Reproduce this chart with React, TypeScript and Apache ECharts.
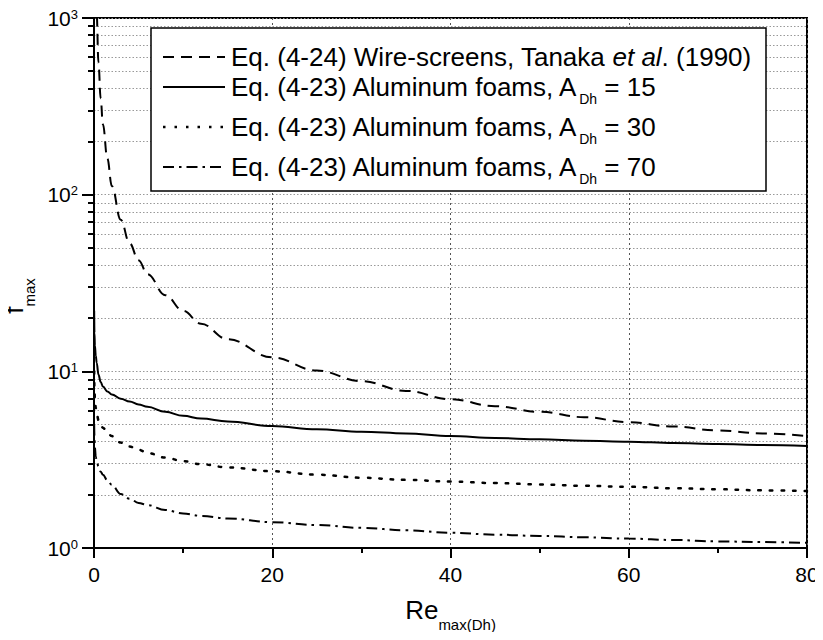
import React, { useEffect, useRef } from "react";
import * as echarts from "echarts";

// ---- data ----
const wireRe = [0.25, 0.3, 0.5, 0.75, 1, 1.5, 2, 3, 4, 5, 6, 8, 10, 12, 15, 20, 25, 30, 35, 40, 45, 50, 55, 60, 65, 70, 75, 80];
const wireF = [1300, 1050, 560, 350, 250, 160, 112, 72, 53, 42.5, 35.5, 27, 22, 18.6, 15.2, 12, 10.1, 8.8, 7.75, 6.95, 6.35, 5.9, 5.5, 5.15, 4.87, 4.63, 4.45, 4.3];

const foamRe = [0.02, 0.05, 0.1, 0.2, 0.3, 0.5, 0.75, 1, 1.5, 2, 3, 4, 5, 6, 8, 10, 12, 15, 20, 25, 30, 35, 40, 45, 50, 55, 60, 65, 70, 75, 80];
const foamA15 = [22, 16.5, 14, 12.3, 11.2, 9.6, 8.7, 8.2, 7.7, 7.4, 7.0, 6.75, 6.5, 6.3, 5.9, 5.6, 5.4, 5.2, 4.9, 4.7, 4.55, 4.45, 4.3, 4.2, 4.12, 4.05, 4.0, 3.93, 3.88, 3.83, 3.78];
const foamA30 = [10, 8, 7.0, 6.2, 5.8, 5.3, 5.0, 4.8, 4.5, 4.3, 3.95, 3.75, 3.6, 3.45, 3.25, 3.1, 2.98, 2.86, 2.72, 2.6, 2.5, 2.43, 2.38, 2.33, 2.29, 2.25, 2.22, 2.18, 2.15, 2.12, 2.1];
const foamA70 = [5.0, 4.3, 3.7, 3.3, 3.1, 2.9, 2.7, 2.6, 2.42, 2.28, 2.02, 1.9, 1.8, 1.75, 1.64, 1.57, 1.52, 1.47, 1.40, 1.35, 1.30, 1.26, 1.22, 1.19, 1.17, 1.15, 1.13, 1.11, 1.09, 1.08, 1.07];

const seriesNames = [
  "Eq. (4-24) Wire-screens, Tanaka et al. (1990)",
  "Eq. (4-23) Aluminum foams, A_Dh = 15",
  "Eq. (4-23) Aluminum foams, A_Dh = 30",
  "Eq. (4-23) Aluminum foams, A_Dh = 70",
];
const legendTexts = [
  "{m|Eq. (4-24) Wire-screens, Tanaka }{i|et al}{m|. (1990)}",
  "{m|Eq. (4-23) Aluminum foams, A}{s|Dh}{m| = 15}",
  "{m|Eq. (4-23) Aluminum foams, A}{s|Dh}{m| = 30}",
  "{m|Eq. (4-23) Aluminum foams, A}{s|Dh}{m| = 70}",
];

const FONT = "Arial, 'Liberation Sans', Helvetica, sans-serif";

const dashes: any[] = [[11, 7], "solid", [2.5, 9], [11, 5, 2.5, 5]];
const legendRows = [57, 87, 127, 167];

function zip(xs: number[], ys: number[]) {
  return xs.map((x, i) => [x, ys[i]]);
}

export default function App() {
  const ref = useRef<HTMLDivElement>(null);
  useEffect(() => {
    if (!ref.current) return;
    const chart = echarts.init(ref.current, null, { renderer: "svg" });
    const datasets = [zip(wireRe, wireF), zip(foamRe, foamA15), zip(foamRe, foamA30), zip(foamRe, foamA70)];
    const legendRich = {
      m: { fontSize: 26, lineHeight: 26, verticalAlign: "top", fontFamily: FONT, fill: "#000" },
      i: { fontSize: 26, lineHeight: 26, verticalAlign: "top", fontFamily: FONT, fontStyle: "italic", fill: "#000" },
      s: { fontSize: 14, lineHeight: 14, padding: [18, 0, 0, 0], verticalAlign: "top", fontFamily: FONT, fill: "#000" },
    };
    const graphic: any[] = [
      {
        type: "rect",
        z: 100,
        shape: { x: 151, y: 28, width: 615, height: 163 },
        style: { fill: "#fff", stroke: "#000", lineWidth: 1.5 },
      },
    ];
    legendRows.forEach((y, i) => {
      graphic.push({
        type: "line",
        z: 101,
        shape: { x1: 163, y1: y, x2: 225, y2: y },
        style: {
          stroke: "#000",
          lineWidth: i === 2 ? 2.5 : 2,
          lineDash: dashes[i] === "solid" ? null : dashes[i],
        },
      });
      graphic.push({
        type: "text",
        z: 101,
        x: 231,
        y: y - 13,
        style: {
          text: legendTexts[i],
          rich: legendRich,
          verticalAlign: "top",
          align: "left",
        },
      });
    });

    const option: any = {
      animation: false,
      backgroundColor: "#fff",
      grid: {
        left: 94,
        right: 16,
        top: 18,
        bottom: 92,
        containLabel: false,
        outerBoundsMode: "none",
        show: true,
        borderColor: "#000",
        borderWidth: 2,
        backgroundColor: "transparent",
      },
      xAxis: {
        type: "value",
        min: 0,
        max: 80,
        interval: 20,
        axisLine: { show: true, onZero: false, lineStyle: { color: "#000", width: 2 } },
        axisTick: { show: true, length: 10, lineStyle: { color: "#000", width: 2 } },
        minorTick: { show: true, splitNumber: 2, length: 5, lineStyle: { color: "#000", width: 2 } },
        axisLabel: { color: "#000", fontSize: 21, margin: 16, fontFamily: FONT },
        splitLine: { show: true, lineStyle: { color: "#555", type: [2, 3], width: 1 } },
        name: "{r|Re}{s|max(Dh)}",
        nameLocation: "middle",
        nameGap: 49,
        nameTextStyle: {
          rich: {
            r: { fontSize: 26, lineHeight: 26, verticalAlign: "top", fontFamily: FONT, color: "#000" },
            s: { fontSize: 15, lineHeight: 15, padding: [20, 0, 0, 0], verticalAlign: "top", fontFamily: FONT, color: "#000" },
          },
        },
      },
      yAxis: {
        type: "log",
        logBase: 10,
        min: 1,
        max: 1000,
        axisLine: { show: true, onZero: false, lineStyle: { color: "#000", width: 2 } },
        axisTick: { show: true, length: 12, lineStyle: { color: "#000", width: 2 } },
        minorTick: { show: true, splitNumber: 9, length: 6, lineStyle: { color: "#000", width: 2 } },
        minorSplitLine: { show: true, lineStyle: { color: "#999", type: [1.5, 2], width: 1 } },
        splitLine: { show: true, lineStyle: { color: "#999", type: [1.5, 2], width: 1 } },
        axisLabel: {
          margin: 16,
          formatter: (v: number) => `{b|10}{s|${Math.round(Math.log10(v))}}`,
          rich: {
            b: { fontSize: 21, lineHeight: 21, verticalAlign: "bottom", fontFamily: FONT, color: "#000" },
            s: { fontSize: 13, lineHeight: 13, padding: [0, 0, 12, 0], verticalAlign: "top", fontFamily: FONT, color: "#000" },
          },
        },
        name: "{f|f}{s|max}",
        nameLocation: "middle",
        nameRotate: 90,
        nameGap: 52,
        nameTextStyle: {
          padding: [0, 26, 0, 0],
          rich: {
            f: { fontSize: 26, lineHeight: 26, verticalAlign: "top", fontFamily: FONT, color: "#000" },
            s: { fontSize: 15, lineHeight: 15, padding: [21, 0, 0, 0], verticalAlign: "top", fontFamily: FONT, color: "#000" },
          },
        },
      },
      series: datasets.map((d, i) => ({
        name: seriesNames[i],
        type: "line",
        data: d,
        symbol: "none",
        smooth: 0.4,
        smoothMonotone: "x",
        clip: true,
        lineStyle: {
          color: "#000",
          width: i === 2 ? 2.5 : 2,
          type: dashes[i],
          cap: i === 2 ? "round" : "butt",
        },
        z: 3,
      })),
      graphic,
    };
    chart.setOption(option);
    return () => chart.dispose();
  }, []);
  return <div ref={ref} style={{ width: 823, height: 640, margin: -8 }} />;
}
